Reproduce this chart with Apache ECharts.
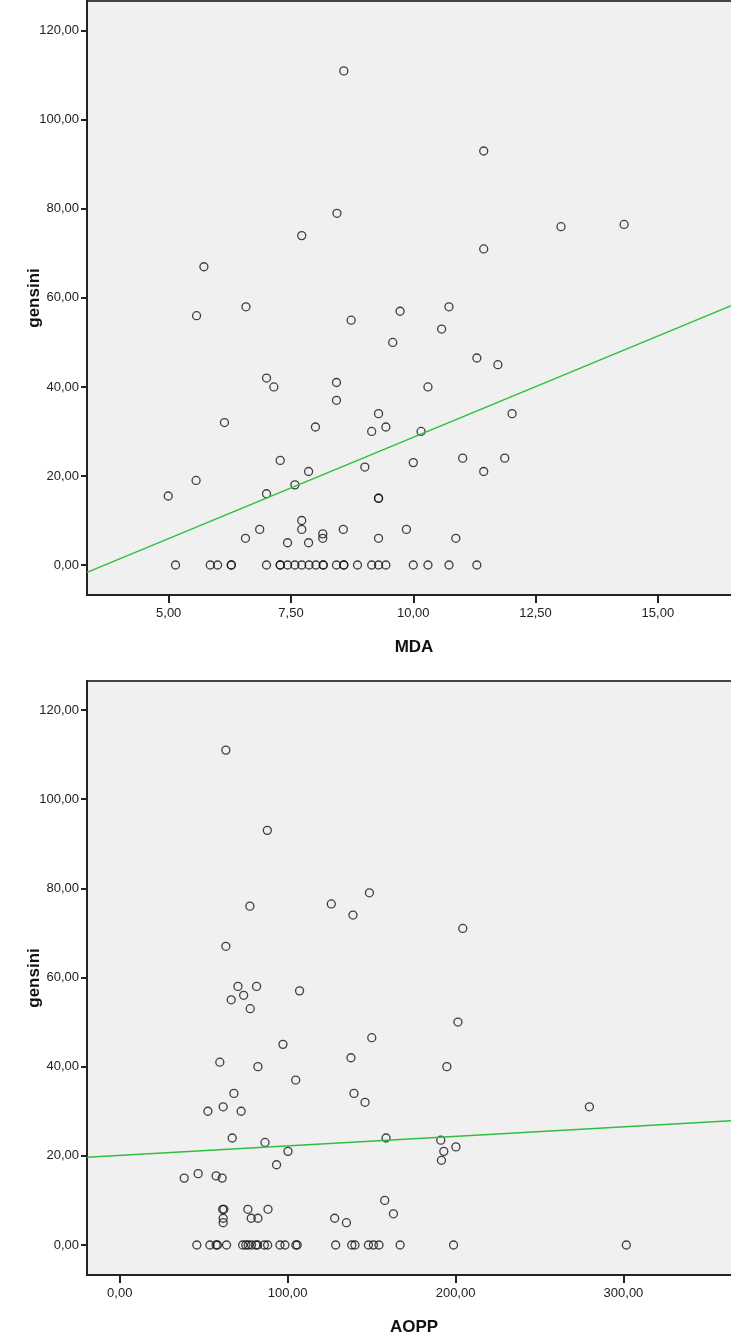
<!DOCTYPE html>
<html><head><meta charset="utf-8">
<script src="https://cdn.jsdelivr.net/npm/echarts@6/dist/echarts.min.js"></script>
<style>html,body{margin:0;padding:0;background:#fff;}#c{width:731px;height:1339px;}</style>
</head><body><div id="c"></div>
<script>
// MDA vs gensini
const mdaX = [8.58,11.44,8.44,13.02,14.31,7.72,11.44,5.72,6.58,10.73,9.73,5.57,8.73,10.58,9.58,11.30,11.73,7.00,8.43,7.15,10.30,8.43,9.29,12.02,6.14,8.00,9.44,9.15,10.16,7.28,11.01,11.87,10.00,9.01,7.86,11.44,5.56,7.58,7.00,4.99,9.29,9.29,7.72,7.72,6.86,8.57,9.86,8.15,8.15,6.57,9.29,10.87,7.43,7.86,
  5.14,5.85,6.00,6.28,6.28,7.00,7.28,7.28,7.43,7.58,7.72,7.87,8.01,8.16,8.16,8.43,8.58,8.58,8.86,9.15,9.29,9.44,10.00,10.30,10.73,11.30];
const mdaY = [111,93,79,76,76.5,74,71,67,58,58,57,56,55,53,50,46.5,45,42,41,40,40,37,34,34,32,31,31,30,30,23.5,24,24,23,22,21,21,19,18,16,15.5,15,15,10,8,8,8,8,7,6,6,6,6,5,5,
  0,0,0,0,0,0,0,0,0,0,0,0,0,0,0,0,0,0,0,0,0,0,0,0,0,0];
// AOPP vs gensini
const aoppX = [63.2,87.9,77.5,126.0,138.9,148.7,204.3,63.2,70.4,81.5,73.8,66.4,77.7,107.1,97.2,150.1,137.7,59.6,82.3,104.8,68.0,139.5,146.1,52.5,61.6,72.3,201.4,194.8,279.7,67.0,86.5,100.2,93.4,158.6,38.4,46.7,57.4,61.0,61.3,62.0,61.6,61.6,76.3,78.3,82.3,88.3,128.0,135.0,157.8,163.0,191.2,193.0,191.6,200.2,
  45.9,53.7,57.4,58.2,63.6,73.2,75.1,76.5,78.5,81.1,82.1,86.1,88.1,95.4,98.4,104.9,105.7,128.6,138.2,140.1,148.1,151.1,154.4,167.0,198.8,301.7];
const aoppY = [111,93,76,76.5,74,79,71,67,58,58,56,55,53,57,45,46.5,42,41,40,37,34,34,32,30,31,30,50,40,31,24,23,21,18,24,15,16,15.5,15,8,8,6,5,8,6,6,8,6,5,10,7,23.5,21,19,22,
  0,0,0,0,0,0,0,0,0,0,0,0,0,0,0,0,0,0,0,0,0,0,0,0,0,0];
// fit lines (intercept, slope)
const mdaFit = [-16.8, 4.55];
const aoppFit = [20.1, 0.0213];
const yTicks = [0,20,40,60,80,100,120];
const mdaTicks = [5,7.5,10,12.5,15];
const aoppTicks = [0,100,200,300];

const fmt = v => Number(v).toFixed(2).replace('.', ',');
const xr1 = [3.33, 16.70], xr2 = [-19.5, 370.0], yr1 = [-6.74, 126.7], yr2 = [-6.73, 126.5];
const pts = (xs, ys) => xs.map((x,i)=>[x, ys[i]]);
const fitLine = (f, r) => [[r[0], f[0]+f[1]*r[0]], [r[1], f[0]+f[1]*r[1]]];

function xAxis(idx, r, ticks, name){
  return {type:'value', gridIndex:idx, min:r[0], max:r[1], name:name, nameLocation:'middle', nameGap:44, nameMoveOverlap:false,
    nameTextStyle:{fontFamily:'Liberation Sans, Arial', fontWeight:'bold', fontSize:17, color:'#111'},
    axisLine:{show:true, onZero:false, lineStyle:{color:'#222', width:2}},
    axisTick:{show:true, length:8, customValues:ticks, lineStyle:{color:'#222', width:2}},
    axisLabel:{customValues:ticks, formatter:fmt, margin:12, fontFamily:'Liberation Sans, Arial', fontSize:13, color:'#222'},
    splitLine:{show:false}};
}
function yAxis(idx, r){
  return {type:'value', gridIndex:idx, min:r[0], max:r[1], name:'gensini', nameLocation:'middle', nameGap:44, nameRotate:90, nameMoveOverlap:false,
    nameTextStyle:{fontFamily:'Liberation Sans, Arial', fontWeight:'bold', fontSize:17, color:'#111'},
    axisLine:{show:true, onZero:false, lineStyle:{color:'#222', width:2}},
    axisTick:{show:true, length:6, customValues:yTicks, lineStyle:{color:'#222', width:2}},
    axisLabel:{customValues:yTicks, formatter:fmt, margin:8, fontFamily:'Liberation Sans, Arial', fontSize:13, color:'#222'},
    splitLine:{show:false}};
}
const scatterStyle = {symbol:'circle', symbolSize:8, itemStyle:{color:'rgba(0,0,0,0)', borderColor:'#111', borderWidth:1.3}};
const lineStyle = {type:'line', symbol:'none', lineStyle:{color:'#2fbf3f', width:1.4}, silent:true};

const chart = echarts.init(document.getElementById('c'), null, {renderer:'canvas'});
chart.setOption({
  backgroundColor:'#fff',
  animation:false,
  grid:[
    {left:87, top:1, width:654, height:594, outerBoundsMode:'none', containLabel:false, show:true, backgroundColor:'#f0f0f0', borderColor:'#444', borderWidth:2},
    {left:87, top:681, width:654, height:594, outerBoundsMode:'none', containLabel:false, show:true, backgroundColor:'#f0f0f0', borderColor:'#444', borderWidth:2}
  ],
  xAxis:[xAxis(0, xr1, mdaTicks, 'MDA'), xAxis(1, xr2, aoppTicks, 'AOPP')],
  yAxis:[yAxis(0, yr1), yAxis(1, yr2)],
  series:[
    Object.assign({type:'line', xAxisIndex:0, yAxisIndex:0, data:fitLine(mdaFit, xr1)}, lineStyle),
    Object.assign({type:'scatter', xAxisIndex:0, yAxisIndex:0, data:pts(mdaX, mdaY)}, scatterStyle),
    Object.assign({type:'line', xAxisIndex:1, yAxisIndex:1, data:fitLine(aoppFit, xr2)}, lineStyle),
    Object.assign({type:'scatter', xAxisIndex:1, yAxisIndex:1, data:pts(aoppX, aoppY)}, scatterStyle)
  ]
});
</script></body></html>
